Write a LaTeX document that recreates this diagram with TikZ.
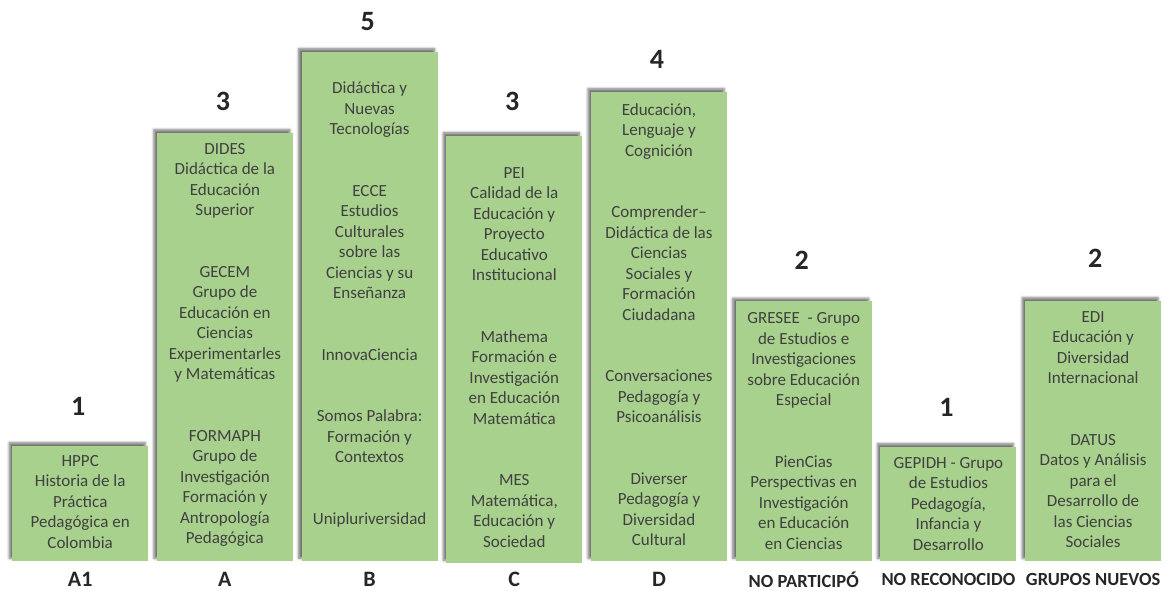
\documentclass[tikz,border=0pt]{standalone}
\usepackage{fontspec}
\setmainfont{Carlito}
\usetikzlibrary{shadows,shadows.blur,positioning}
\definecolor{barGreen}{HTML}{A9D18E}
\definecolor{txtGray}{HTML}{404040}
\definecolor{numDark}{HTML}{262626}
\tikzset{
  bar/.style={fill=barGreen, anchor=south west, minimum width=136pt, inner sep=0pt,
    blur shadow={shadow xshift=-3pt, shadow yshift=3pt, shadow blur radius=2.5pt, shadow opacity=55}},
  grouptext/.style={align=center, text=txtGray, inner sep=0pt, font=\fontsize{17}{20.5}\selectfont},
  count/.style={text=numDark, inner sep=0pt, font=\fontsize{28}{32}\selectfont\bfseries},
  level/.style={text=numDark, inner sep=0pt, text depth=0pt, font=\fontsize{22}{26}\selectfont\bfseries},
  levelsmall/.style={text=numDark, inner sep=0pt, text depth=0pt, font=\fontsize{18.5}{22}\selectfont\bfseries},
}

\begin{document}
\begin{tikzpicture}[x=1pt,y=1pt]
	\useasboundingbox (0,0) rectangle (1167,590);

	% Bars
	\node[bar, minimum height=115.5pt] (barA1) at (12,28.5) {};
	\node[bar, minimum height=428.5pt] (barA) at (156.7,28.5) {};
	\node[bar, minimum height=509.5pt] (barB) at (301.4,28.5) {};
	\node[bar, minimum height=427.5pt] (barC) at (446.1,26.5) {};
	\node[bar, minimum height=469.5pt] (barD) at (590.8,28.5) {};
	\node[bar, minimum height=260pt] (barNP) at (735.5,28.5) {};
	\node[bar, minimum height=114.5pt] (barNR) at (880.2,28.5) {};
	\node[bar, minimum height=260.5pt] (barGN) at (1024.9,28.5) {};

	% Groups in each bar
	\node[grouptext] (txtA1) at ([yshift=2pt]barA1.center)
		{HPPC\\Historia de la\\Práctica\\Pedagógica en\\Colombia};
	\node[grouptext] (txtA) at ([yshift=2pt]barA.center)
		{DIDES\\Didáctica de la\\Educación\\Superior\\[41pt]
		 GECEM\\Grupo de\\Educación en\\Ciencias\\Experimentarles\\y Matemáticas\\[41pt]
		 FORMAPH\\Grupo de\\Investigación\\Formación y\\Antropología\\Pedagógica};
	\node[grouptext] (txtB) at ([yshift=2pt]barB.center)
		{Didáctica y\\Nuevas\\Tecnologías\\[41pt]
		 ECCE\\Estudios\\Culturales\\sobre las\\Ciencias y su\\Enseñanza\\[41pt]
		 InnovaCiencia\\[41pt]
		 Somos Palabra:\\Formación y\\Contextos\\[41pt]
		 Unipluriversidad};
	\node[grouptext] (txtC) at ([yshift=-8pt]barC.center)
		{PEI\\Calidad de la\\Educación y\\Proyecto\\Educativo\\Institucional\\[41pt]
		 Mathema\\Formación e\\Investigación\\en Educación\\Matemática\\[41pt]
		 MES\\Matemática,\\Educación y\\Sociedad};
	\node[grouptext] (txtD) at ([yshift=2pt]barD.center)
		{Educación,\\Lenguaje y\\Cognición\\[41pt]
		 Comprender–\\Didáctica de las\\Ciencias\\Sociales y\\Formación\\Ciudadana\\[41pt]
		 Conversaciones\\Pedagogía y\\Psicoanálisis\\[41pt]
		 Diverser\\Pedagogía y\\Diversidad\\Cultural};
	\node[grouptext] (txtNP) at ([yshift=0.5pt]barNP.center)
		{GRESEE \ - Grupo\\de Estudios e\\Investigaciones\\sobre Educación\\Especial\\[41pt]
		 PienCias\\Perspectivas en\\Investigación\\en Educación\\en Ciencias};
	\node[grouptext] (txtNR) at ([yshift=0.5pt]barNR.center)
		{GEPIDH - Grupo\\de Estudios\\Pedagogía,\\Infancia y\\Desarrollo};
	\node[grouptext] (txtGN) at ([yshift=1.5pt]barGN.center)
		{EDI\\Educación y\\Diversidad\\Internacional\\[41pt]
		 DATUS\\Datos y Análisis\\para el\\Desarrollo de\\las Ciencias\\Sociales};

	% Counts
	\node[count] (nA1) at ([xshift=-2pt,yshift=39pt]barA1.north) {1};
	\node[count] (nA) at ([xshift=-2pt,yshift=31pt]barA.north) {3};
	\node[count] (nB) at ([xshift=-2pt,yshift=30pt]barB.north) {5};
	\node[count] (nC) at ([xshift=-2pt,yshift=34pt]barC.north) {3};
	\node[count] (nD) at ([xshift=-2pt,yshift=32pt]barD.north) {4};
	\node[count] (nNP) at ([xshift=-2pt,yshift=40.5pt]barNP.north) {2};
	\node[count] (nNR) at ([xshift=-2pt,yshift=39pt]barNR.north) {1};
	\node[count] (nGN) at ([xshift=2pt,yshift=42pt]barGN.north) {2};

	% Categories
	\node[level] (lA1) at ([yshift=-18pt]barA1.south) {A1};
	\node[level] (lA) at ([yshift=-18pt]barA.south) {A};
	\node[level] (lB) at ([yshift=-18pt]barB.south) {B};
	\node[level] (lC) at ([yshift=-16pt]barC.south) {C};
	\node[level] (lD) at ([yshift=-18pt]barD.south) {D};
	\node[levelsmall] (lNP) at ([yshift=-18pt]barNP.south) {NO PARTICIPÓ};
	\node[levelsmall] (lNR) at ([yshift=-18pt]barNR.south) {NO RECONOCIDO};
	\node[levelsmall] (lGN) at ([yshift=-18pt]barGN.south) {GRUPOS NUEVOS};
\end{tikzpicture}
\end{document}
